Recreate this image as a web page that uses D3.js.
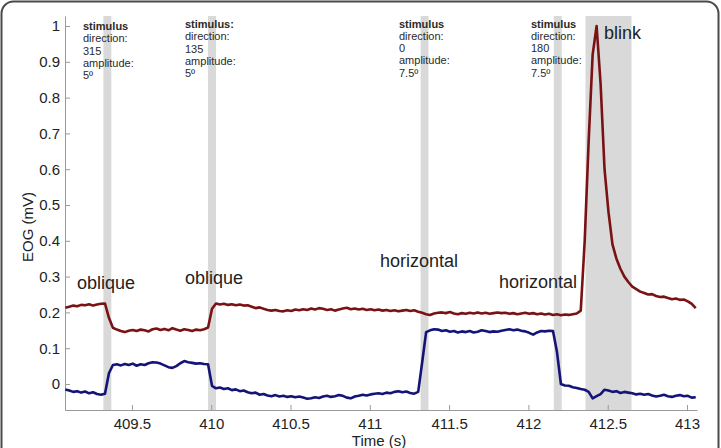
<!DOCTYPE html>
<html>
<head>
<meta charset="utf-8">
<script src="https://cdn.jsdelivr.net/npm/d3@7"></script>
<style>
    body { margin: 0; background: #fff; }
    .chart text { font-family: "Liberation Sans", Arial, sans-serif; }
</style>
</head>
<body>
<script>
// EOG samples, one every 25 ms starting at 409.08 s
var startTime = 409.08;
var sampleStep = 0.025;

// vertical channel (red), shows the blink
var vertEOG = [
    0.213, 0.216, 0.219, 0.217, 0.221, 0.220, 0.223, 0.219, 0.222, 0.224, 0.225,
    0.185, 0.157,
    0.152, 0.148, 0.145, 0.149, 0.151, 0.148, 0.152, 0.150, 0.147, 0.153, 0.155, 0.151,
    0.154, 0.150, 0.156, 0.152, 0.149, 0.153, 0.151, 0.148, 0.152, 0.150, 0.153, 0.158,
    0.210,
    0.225, 0.222, 0.224, 0.221, 0.223, 0.220, 0.222, 0.219, 0.220, 0.216, 0.212, 0.214,
    0.210, 0.207, 0.205, 0.207, 0.204,
    0.203, 0.206, 0.204, 0.208, 0.206, 0.209, 0.207, 0.211, 0.208, 0.212, 0.210, 0.207,
    0.209, 0.205, 0.208, 0.211, 0.213, 0.209, 0.211, 0.208, 0.210, 0.207, 0.209, 0.206,
    0.208, 0.205, 0.207, 0.204, 0.206, 0.203, 0.205, 0.207, 0.204, 0.206, 0.202, 0.199,
    0.195, 0.193, 0.197, 0.199, 0.200, 0.198, 0.201, 0.197, 0.195, 0.198, 0.196, 0.199,
    0.197, 0.200, 0.197, 0.199, 0.196, 0.198, 0.200, 0.198,
    0.199, 0.196, 0.198, 0.195, 0.197, 0.199, 0.196, 0.198, 0.195, 0.197, 0.194, 0.196,
    0.193, 0.195, 0.192, 0.194, 0.193, 0.195, 0.197,
    0.205, 0.40, 0.68, 0.92, 1.0, 0.84, 0.60, 0.48, 0.39, 0.35, 0.322, 0.300, 0.285,
    0.272, 0.265, 0.258, 0.254, 0.250, 0.251, 0.246, 0.243, 0.244, 0.240, 0.237, 0.239,
    0.235, 0.236, 0.231, 0.224, 0.212
];

// horizontal channel (blue)
var horzEOG = [
    -0.015, -0.018, -0.022, -0.020, -0.024, -0.021, -0.026, -0.023, -0.028, -0.030, -0.027,
    0.030, 0.053,
    0.055, 0.052, 0.056, 0.053, 0.057, 0.051, 0.055, 0.053, 0.058, 0.061, 0.060, 0.057,
    0.052, 0.047, 0.045, 0.050, 0.058, 0.064, 0.061, 0.059, 0.057, 0.058, 0.056, 0.055,
    -0.005, -0.012, -0.010, -0.014, -0.012, -0.017, -0.015, -0.020, -0.018, -0.023, -0.026,
    -0.024, -0.030, -0.028, -0.032, -0.034, -0.031, -0.035,
    -0.033, -0.036, -0.034, -0.037, -0.035, -0.038, -0.041, -0.040, -0.037, -0.039, -0.035,
    -0.033, -0.036, -0.034, -0.031, -0.033, -0.038, -0.040, -0.035, -0.033, -0.030, -0.032,
    -0.029, -0.027, -0.026, -0.028, -0.024, -0.026, -0.022, -0.020, -0.023, -0.021, -0.025,
    -0.027, -0.022,
    0.060, 0.145, 0.150, 0.153, 0.152, 0.148, 0.150, 0.146, 0.148, 0.144, 0.147, 0.145,
    0.148, 0.144, 0.146, 0.150, 0.148, 0.145, 0.147, 0.146, 0.149, 0.151, 0.153, 0.150,
    0.152, 0.149, 0.147, 0.143, 0.138, 0.144, 0.148, 0.147, 0.149, 0.148,
    0.090, 0.000, -0.004, -0.005, -0.009, -0.011, -0.014, -0.016, -0.022, -0.040, -0.034,
    -0.028, -0.016, -0.018, -0.022, -0.020, -0.025, -0.022, -0.024, -0.026, -0.029, -0.027,
    -0.030, -0.028, -0.032, -0.035, -0.033, -0.030, -0.034, -0.036, -0.033, -0.031, -0.034,
    -0.033, -0.038, -0.037
];

// shaded intervals [start, end] in seconds
var stimulusBands = [[409.32, 409.37], [409.98, 410.03], [411.32, 411.37], [412.16, 412.21]];
var blinkBand = [412.36, 412.65];

var stimulusNotes = [
    { time: 409.32, head: "stimulus", direction: "315", amplitude: "5º" },
    { time: 409.98, head: "stimulus:", direction: "135", amplitude: "5º" },
    { time: 411.32, head: "stimulus", direction: "0", amplitude: "7.5º" },
    { time: 412.16, head: "stimulus", direction: "180", amplitude: "7.5º" }
];
var movementLabels = ["oblique", "oblique", "horizontal", "horizontal"];

var xTicks = [409.5, 410, 410.5, 411, 411.5, 412, 412.5, 413];
var xTickLabels = ["409.5", "410", "410.5", "411", "411.5", "412", "412.5", "413"];
var yTicks = [0, 0.1, 0.2, 0.3, 0.4, 0.5, 0.6, 0.7, 0.8, 0.9, 1];
var yTickLabels = ["0", "0.1", "0.2", "0.3", "0.4", "0.5", "0.6", "0.7", "0.8", "0.9", "1"];

var chartWidth = 721;
var chartHeight = 448;

var svg = d3.select("body")
    .append("svg")
    .classed("chart", true)
    .attr("width", chartWidth)
    .attr("height", chartHeight);

// frame round the figure, open at the bottom edge
svg.append("rect")
    .attr("x", 1.5)
    .attr("y", 1.5)
    .attr("width", 717)
    .attr("height", 470)
    .attr("rx", 12)
    .attr("ry", 12)
    .attr("fill", "none")
    .attr("stroke", "#4a4a4a")
    .attr("stroke-width", 2);

var x = d3.scaleLinear()
    .domain([409.078, 413.063])
    .range([65, 697]);

var y = d3.scaleLinear()
    .domain([-0.0726, 1.028])
    .range([410, 16]);

// grey bands
svg.selectAll(".band")
    .data(stimulusBands.concat([blinkBand]))
    .enter()
    .append("rect")
    .classed("band", true)
    .attr("x", function(d) { return x(d[0]); })
    .attr("width", function(d) { return x(d[1]) - x(d[0]); })
    .attr("y", y.range()[1])
    .attr("height", y.range()[0] - y.range()[1])
    .attr("fill", "#d9d9d9");

// axes
var xAxis = svg.append("g")
    .attr("transform", "translate(0," + y.range()[0] + ")")
    .call(d3.axisBottom(x)
        .tickValues(xTicks)
        .tickFormat(function(d, i) { return xTickLabels[i]; })
        .tickSize(-5)
        .tickSizeOuter(0)
        .tickPadding(8));

var yAxis = svg.append("g")
    .attr("transform", "translate(" + x.range()[0] + ",0)")
    .call(d3.axisLeft(y)
        .tickValues(yTicks)
        .tickFormat(function(d, i) { return yTickLabels[i]; })
        .tickSize(-5)
        .tickSizeOuter(0)
        .tickPadding(5));

[xAxis, yAxis].forEach(function(ax) {
    ax.selectAll("path, line").attr("stroke", "#9a9a9a");
    ax.selectAll("text")
        .attr("font-size", 15)
        .attr("fill", "#222");
});

svg.append("text")
    .attr("x", 379)
    .attr("y", 446)
    .attr("text-anchor", "middle")
    .attr("font-size", 15)
    .attr("fill", "#222")
    .text("Time (s)");

svg.append("text")
    .attr("transform", "translate(32.5,227) rotate(-90)")
    .attr("text-anchor", "middle")
    .attr("font-size", 15)
    .attr("fill", "#222")
    .text("EOG (mV)");

// traces
var line = d3.line()
    .x(function(d, i) { return x(startTime + i * sampleStep); })
    .y(function(d) { return y(d); });

svg.append("path")
    .datum(horzEOG)
    .attr("fill", "none")
    .attr("stroke", "#141478")
    .attr("stroke-width", 2.6)
    .attr("stroke-linejoin", "round")
    .attr("d", line);

svg.append("path")
    .datum(vertEOG)
    .attr("fill", "none")
    .attr("stroke", "#7a1214")
    .attr("stroke-width", 2.6)
    .attr("stroke-linejoin", "round")
    .attr("d", line);

// stimulus notes above each band
var noteX = [83, 185, 399, 531];
var noteY = [30, 28, 27.5, 27.5];

var notes = svg.selectAll(".note")
    .data(stimulusNotes)
    .enter()
    .append("text")
    .classed("note", true)
    .attr("font-size", 11)
    .attr("fill", "#2a2a2a")
    .attr("y", function(d, i) { return noteY[i]; });

notes.each(function(d, i) {
    var rows = [d.head, "direction:", d.direction, "amplitude:", d.amplitude];
    d3.select(this).selectAll("tspan")
        .data(rows)
        .enter()
        .append("tspan")
        .attr("x", noteX[i])
        .attr("dy", function(r, j) { return j === 0 ? 0 : 12.3; })
        .attr("font-weight", function(r, j) { return j === 0 ? "bold" : "normal"; })
        .text(function(r) { return r; });
});

// movement labels
var labelX = [77, 185, 380, 499];
var labelY = [289, 284, 266.5, 288];

svg.selectAll(".moveLabel")
    .data(movementLabels)
    .enter()
    .append("text")
    .classed("moveLabel", true)
    .attr("x", function(d, i) { return labelX[i]; })
    .attr("y", function(d, i) { return labelY[i]; })
    .attr("font-size", 18)
    .attr("fill", "#222")
    .text(function(d) { return d; });

svg.append("text")
    .attr("x", 604)
    .attr("y", 39)
    .attr("font-size", 18)
    .attr("fill", "#222")
    .text("blink");
</script>
</body>
</html>
